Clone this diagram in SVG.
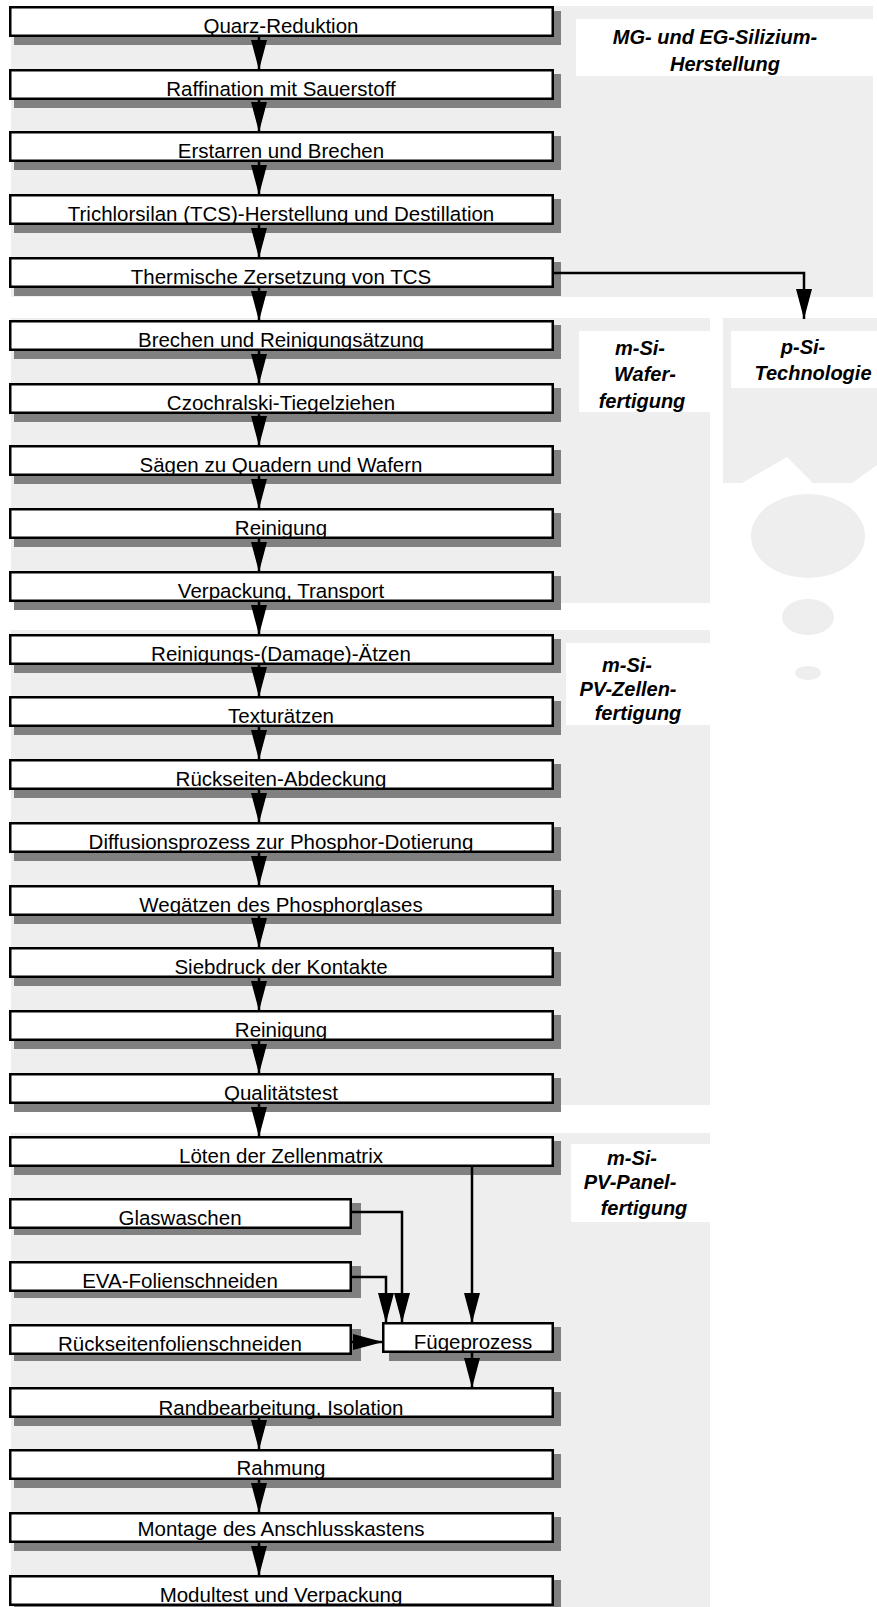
<svg xmlns="http://www.w3.org/2000/svg" width="877" height="1607" viewBox="0 0 877 1607">
  <defs>
    <marker id="head" markerUnits="userSpaceOnUse" markerWidth="30" markerHeight="16" refX="30" refY="8" orient="auto">
      <path d="M0,0 L30,8 L0,16 z" fill="#000"/>
    </marker>
    <style>
      .panel { fill: #eeeeee; }
      .tag { fill: #ffffff; }
      .shadow { fill: #808080; }
      .box { fill: #ffffff; stroke: #000; stroke-width: 2.5; }
      .step { font-family: "Liberation Sans", Arial, sans-serif; font-size: 20.5px; fill: #000; text-anchor: middle; }
      .phase { font-family: "Liberation Sans", Arial, sans-serif; font-size: 20px; font-weight: bold; font-style: italic; fill: #000; text-anchor: middle; }
      .link { fill: none; stroke: #000; stroke-width: 2.5; marker-end: url(#head); }
    </style>
  </defs>

  <rect width="877" height="1607" fill="#ffffff"/>

  <!-- phase backgrounds -->
  <g id="phase-mg-eg">
    <rect class="panel" x="11" y="6" width="862" height="291"/>
    <rect class="tag" x="576" y="19" width="297" height="57"/>
    <text class="phase" x="715" y="44">MG- und EG-Silizium-</text>
    <text class="phase" x="725" y="71">Herstellung</text>
  </g>
  <g id="phase-wafer">
    <rect class="panel" x="11" y="318" width="699" height="285"/>
    <rect class="tag" x="579" y="331" width="131" height="81"/>
    <text class="phase" x="640" y="355">m-Si-</text>
    <text class="phase" x="645" y="381">Wafer-</text>
    <text class="phase" x="642" y="408">fertigung</text>
  </g>
  <g id="phase-psi">
    <path class="panel" d="M723,318 H877 V465 L852,483 H813 L787,457 L742,483 H723 Z"/>
    <rect class="tag" x="731" y="331" width="146" height="57"/>
    <text class="phase" x="803" y="354">p-Si-</text>
    <text class="phase" x="813" y="380">Technologie</text>
    <ellipse class="panel" cx="808" cy="536" rx="57" ry="42"/>
    <ellipse class="panel" cx="808" cy="617" rx="26" ry="18"/>
    <ellipse class="panel" cx="808" cy="673" rx="13" ry="7"/>
  </g>
  <g id="phase-cell">
    <rect class="panel" x="11" y="630" width="699" height="475"/>
    <rect class="tag" x="566" y="643" width="144" height="82"/>
    <text class="phase" x="627" y="672">m-Si-</text>
    <text class="phase" x="628" y="696">PV-Zellen-</text>
    <text class="phase" x="638" y="720">fertigung</text>
  </g>
  <g id="phase-panel">
    <rect class="panel" x="11" y="1133" width="699" height="474"/>
    <rect class="tag" x="571" y="1144" width="139" height="78"/>
    <text class="phase" x="632" y="1165">m-Si-</text>
    <text class="phase" x="630" y="1189">PV-Panel-</text>
    <text class="phase" x="644" y="1215">fertigung</text>
  </g>

  <!-- process steps -->
  <g id="s01"><rect class="shadow" x="14" y="11" width="547" height="34"/><rect class="box" x="10.25" y="7.25" width="542.5" height="28.5"/><text class="step" x="281" y="32.5">Quarz-Reduktion</text></g>
  <g id="s02"><rect class="shadow" x="14" y="74" width="547" height="34"/><rect class="box" x="10.25" y="70.25" width="542.5" height="28.5"/><text class="step" x="281" y="95.5">Raffination mit Sauerstoff</text></g>
  <g id="s03"><rect class="shadow" x="14" y="136" width="547" height="34"/><rect class="box" x="10.25" y="132.25" width="542.5" height="28.5"/><text class="step" x="281" y="157.5">Erstarren und Brechen</text></g>
  <g id="s04"><rect class="shadow" x="14" y="199" width="547" height="34"/><rect class="box" x="10.25" y="195.25" width="542.5" height="28.5"/><text class="step" x="281" y="220.5">Trichlorsilan (TCS)-Herstellung und Destillation</text></g>
  <g id="s05"><rect class="shadow" x="14" y="262" width="547" height="34"/><rect class="box" x="10.25" y="258.25" width="542.5" height="28.5"/><text class="step" x="281" y="283.5">Thermische Zersetzung von TCS</text></g>
  <g id="s06"><rect class="shadow" x="14" y="325" width="547" height="34"/><rect class="box" x="10.25" y="321.25" width="542.5" height="28.5"/><text class="step" x="281" y="346.5">Brechen und Reinigungsätzung</text></g>
  <g id="s07"><rect class="shadow" x="14" y="388" width="547" height="34"/><rect class="box" x="10.25" y="384.25" width="542.5" height="28.5"/><text class="step" x="281" y="409.5">Czochralski-Tiegelziehen</text></g>
  <g id="s08"><rect class="shadow" x="14" y="450" width="547" height="34"/><rect class="box" x="10.25" y="446.25" width="542.5" height="28.5"/><text class="step" x="281" y="471.5">Sägen zu Quadern und Wafern</text></g>
  <g id="s09"><rect class="shadow" x="14" y="513" width="547" height="34"/><rect class="box" x="10.25" y="509.25" width="542.5" height="28.5"/><text class="step" x="281" y="534.5">Reinigung</text></g>
  <g id="s10"><rect class="shadow" x="14" y="576" width="547" height="34"/><rect class="box" x="10.25" y="572.25" width="542.5" height="28.5"/><text class="step" x="281" y="597.5">Verpackung, Transport</text></g>
  <g id="s11"><rect class="shadow" x="14" y="639" width="547" height="34"/><rect class="box" x="10.25" y="635.25" width="542.5" height="28.5"/><text class="step" x="281" y="660.5">Reinigungs-(Damage)-Ätzen</text></g>
  <g id="s12"><rect class="shadow" x="14" y="701" width="547" height="34"/><rect class="box" x="10.25" y="697.25" width="542.5" height="28.5"/><text class="step" x="281" y="722.5">Texturätzen</text></g>
  <g id="s13"><rect class="shadow" x="14" y="764" width="547" height="34"/><rect class="box" x="10.25" y="760.25" width="542.5" height="28.5"/><text class="step" x="281" y="785.5">Rückseiten-Abdeckung</text></g>
  <g id="s14"><rect class="shadow" x="14" y="827" width="547" height="34"/><rect class="box" x="10.25" y="823.25" width="542.5" height="28.5"/><text class="step" x="281" y="848.5">Diffusionsprozess zur Phosphor-Dotierung</text></g>
  <g id="s15"><rect class="shadow" x="14" y="890" width="547" height="34"/><rect class="box" x="10.25" y="886.25" width="542.5" height="28.5"/><text class="step" x="281" y="911.5">Wegätzen des Phosphorglases</text></g>
  <g id="s16"><rect class="shadow" x="14" y="952" width="547" height="34"/><rect class="box" x="10.25" y="948.25" width="542.5" height="28.5"/><text class="step" x="281" y="973.5">Siebdruck der Kontakte</text></g>
  <g id="s17"><rect class="shadow" x="14" y="1015" width="547" height="34"/><rect class="box" x="10.25" y="1011.25" width="542.5" height="28.5"/><text class="step" x="281" y="1036.5">Reinigung</text></g>
  <g id="s18"><rect class="shadow" x="14" y="1078" width="547" height="34"/><rect class="box" x="10.25" y="1074.25" width="542.5" height="28.5"/><text class="step" x="281" y="1099.5">Qualitätstest</text></g>
  <g id="s19"><rect class="shadow" x="14" y="1141" width="547" height="34"/><rect class="box" x="10.25" y="1137.25" width="542.5" height="28.5"/><text class="step" x="281" y="1162.5">Löten der Zellenmatrix</text></g>
  <g id="s20"><rect class="shadow" x="14" y="1203" width="347" height="32"/><rect class="box" x="10.25" y="1199.25" width="340.5" height="28.5"/><text class="step" x="180" y="1224.5">Glaswaschen</text></g>
  <g id="s21"><rect class="shadow" x="14" y="1266" width="347" height="32"/><rect class="box" x="10.25" y="1262.25" width="340.5" height="28.5"/><text class="step" x="180" y="1287.5">EVA-Folienschneiden</text></g>
  <g id="s22"><rect class="shadow" x="14" y="1329" width="347" height="32"/><rect class="box" x="10.25" y="1325.25" width="340.5" height="28.5"/><text class="step" x="180" y="1351">Rückseitenfolienschneiden</text></g>
  <g id="s23"><rect class="shadow" x="389" y="1327" width="172" height="34"/><rect class="box" x="383.25" y="1323.25" width="169.5" height="28.5"/><text class="step" x="473" y="1348.5">Fügeprozess</text></g>
  <g id="s24"><rect class="shadow" x="14" y="1392" width="547" height="34"/><rect class="box" x="10.25" y="1388.25" width="542.5" height="28.5"/><text class="step" x="281" y="1414.5">Randbearbeitung, Isolation</text></g>
  <g id="s25"><rect class="shadow" x="14" y="1454" width="547" height="34"/><rect class="box" x="10.25" y="1450.25" width="542.5" height="28.5"/><text class="step" x="281" y="1474.5">Rahmung</text></g>
  <g id="s26"><rect class="shadow" x="14" y="1517" width="547" height="34"/><rect class="box" x="10.25" y="1513.25" width="542.5" height="28.5"/><text class="step" x="281" y="1536">Montage des Anschlusskastens</text></g>
  <g id="s27"><rect class="shadow" x="14" y="1580" width="547" height="34"/><rect class="box" x="10.25" y="1576.25" width="542.5" height="28.5"/><text class="step" x="281" y="1601.5">Modultest und Verpackung</text></g>

  <!-- connectors -->
  <g id="connectors">
    <path class="link" d="M259,36 V70"/>
    <path class="link" d="M259,99 V132"/>
    <path class="link" d="M259,161 V195"/>
    <path class="link" d="M259,224 V258"/>
    <path class="link" d="M259,287 V321"/>
    <path class="link" d="M259,350 V384"/>
    <path class="link" d="M259,413 V446"/>
    <path class="link" d="M259,475 V509"/>
    <path class="link" d="M259,538 V572"/>
    <path class="link" d="M259,601 V635"/>
    <path class="link" d="M259,664 V697"/>
    <path class="link" d="M259,726 V760"/>
    <path class="link" d="M259,789 V823"/>
    <path class="link" d="M259,852 V886"/>
    <path class="link" d="M259,915 V948"/>
    <path class="link" d="M259,977 V1011"/>
    <path class="link" d="M259,1040 V1074"/>
    <path class="link" d="M259,1103 V1137"/>
    <path class="link" d="M554,273 H804 V319"/>
    <path class="link" d="M472,1166 V1323"/>
    <path class="link" d="M351,1212 H402 V1323"/>
    <path class="link" d="M351,1277 H386 V1323"/>
    <path class="link" d="M351,1342 H383"/>
    <path class="link" d="M472,1352 V1388"/>
    <path class="link" d="M259,1417 V1450"/>
    <path class="link" d="M259,1479 V1513"/>
    <path class="link" d="M259,1542 V1576"/>
  </g>
</svg>
